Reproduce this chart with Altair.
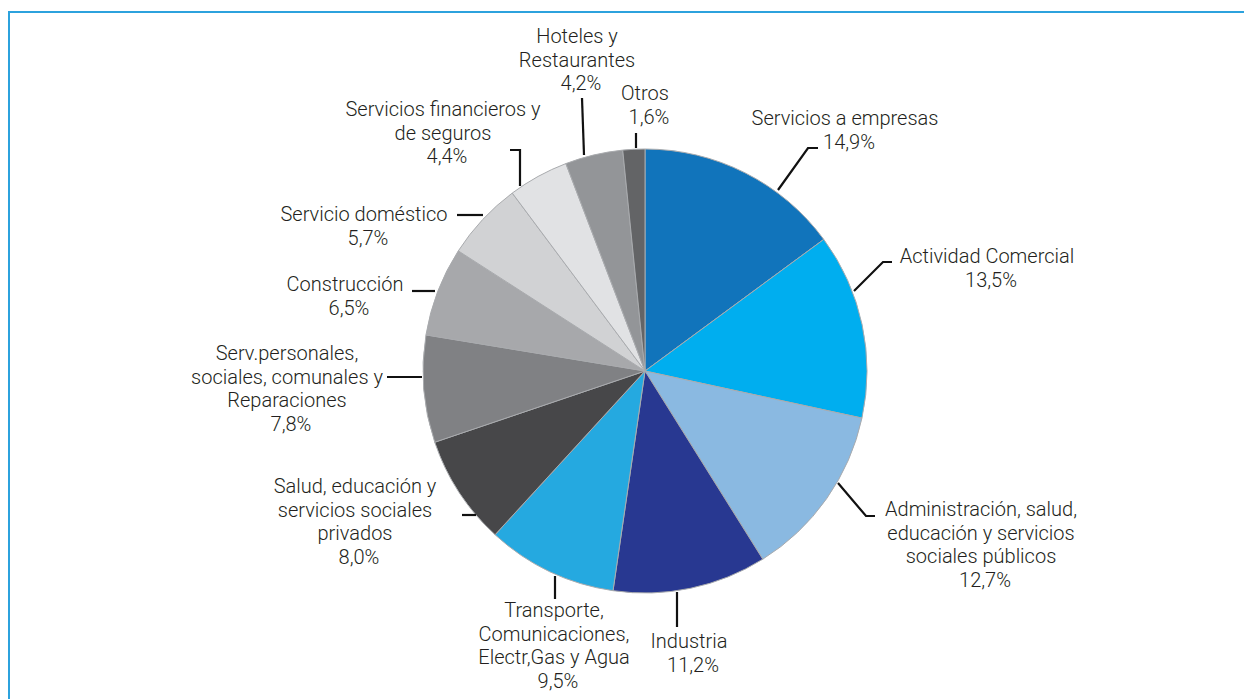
import altair as alt
import pandas as pd

# ---------------- data ----------------
categories = [
    "Servicios a empresas",
    "Actividad Comercial",
    "Administración, salud, educación y servicios sociales públicos",
    "Industria",
    "Transporte, Comunicaciones, Electr,Gas y Agua",
    "Salud, educación y servicios sociales privados",
    "Serv.personales, sociales, comunales y Reparaciones",
    "Construcción",
    "Servicio doméstico",
    "Servicios financieros y de seguros",
    "Hoteles y Restaurantes",
    "Otros",
]
shares = [14.9, 13.5, 12.7, 11.2, 9.5, 8.0, 7.8, 6.5, 5.7, 4.4, 4.2, 1.6]
colors = [
    "#1174BB", "#00AEEF", "#8AB9E1", "#283891", "#25A9E0", "#474749",
    "#808184", "#A7A8AB", "#D1D2D4", "#E1E2E4", "#939598", "#636466",
]
label_lines = [
    ["Servicios a empresas"],
    ["Actividad Comercial"],
    ["Administración, salud,", "educación y servicios", "sociales públicos"],
    ["Industria"],
    ["Transporte,", "Comunicaciones,", "Electr,Gas y Agua"],
    ["Salud, educación y", "servicios sociales", "privados"],
    ["Serv.personales,", "sociales, comunales y", "Reparaciones"],
    ["Construcción"],
    ["Servicio doméstico"],
    ["Servicios financieros y", "de seguros"],
    ["Hoteles y", "Restaurantes"],
    ["Otros"],
]

# ---------------- layout (page pixels) ----------------
W, H = 1236, 691
PIE_CX, PIE_CY, PIE_R = 645, 371, 222
LINE_H = 23.5
label_anchor = [
    (845, 125), (987, 263), (981, 516), (689, 648), (554, 617), (355, 493),
    (287, 360), (345, 291), (364, 221), (443, 116), (577, 43), (645, 100),
]
leaders = [
    [(778, 190), (808, 148), (818, 148)],
    [(854, 291), (883, 262), (892, 262)],
    [(838, 483), (866, 516), (875, 516)],
    [(677, 592), (677, 627)],
    [(555, 576), (555, 599)],
    [(476, 515), (462, 515)],
    [(422, 377), (387, 377)],
    [(435, 291), (412, 291)],
    [(483, 215), (457, 215)],
    [(520, 186), (520, 150), (510, 150)],
    [(584, 155), (582, 98)],
    [(636, 148), (636, 133)],
]

xscale = alt.Scale(domain=[8, 8 + W], nice=False, zero=False)
yscale = alt.Scale(domain=[8, 8 + H], nice=False, zero=False, reverse=True)

pie_df = pd.DataFrame({"cat": categories, "share": shares, "idx": list(range(len(categories)))})

text_rows = []
for i, (lines, v) in enumerate(zip(label_lines, shares)):
    cx, y0 = label_anchor[i]
    pct = f"{v:.1f}".replace(".", ",") + "%"
    all_lines = lines + [pct]
    for j, t in enumerate(all_lines):
        text_rows.append({
            "t": t,
            "x": cx + (4 if j == len(all_lines) - 1 else 0),
            "y": y0 + LINE_H * j,
        })
text_df = pd.DataFrame(text_rows)

lead_rows = []
for i, pts in enumerate(leaders):
    for k, (px, py) in enumerate(pts):
        lead_rows.append({"lid": i, "k": k, "x": px, "y": py})
lead_df = pd.DataFrame(lead_rows)

frame_df = pd.DataFrame({"x": [9], "x2": [1400], "y": [12], "y2": [1000]})

frame = alt.Chart(frame_df).mark_rect(
    fill="white", fillOpacity=0, stroke="#2CA2DD", strokeWidth=2
).encode(
    x=alt.X("x:Q", scale=xscale, axis=None),
    x2="x2:Q",
    y=alt.Y("y:Q", scale=yscale, axis=None),
    y2="y2:Q",
)

pie = alt.Chart(pie_df).mark_arc(
    radius=PIE_R, stroke="#A9ABAE", strokeWidth=1
).encode(
    theta=alt.Theta("share:Q", stack=True),
    order=alt.Order("idx:Q"),
    color=alt.Color("cat:N", scale=alt.Scale(domain=categories, range=colors), legend=None),
    x=alt.X(datum=PIE_CX, type="quantitative", scale=xscale, axis=None),
    y=alt.Y(datum=PIE_CY, type="quantitative", scale=yscale, axis=None),
)

lead = alt.Chart(lead_df).mark_line(
    color="#111111", strokeWidth=2.2, strokeJoin="miter", strokeCap="butt"
).encode(
    x=alt.X("x:Q", scale=xscale, axis=None),
    y=alt.Y("y:Q", scale=yscale, axis=None),
    detail="lid:N",
    order="k:Q",
)

text = alt.Chart(text_df).mark_text(
    align="center", baseline="alphabetic", font="Roboto", fontSize=20,
    fontWeight=300, color="#231F20"
).encode(
    x=alt.X("x:Q", scale=xscale, axis=None),
    y=alt.Y("y:Q", scale=yscale, axis=None),
    text="t:N",
)

chart = alt.layer(frame, pie, lead, text).properties(
    width=W, height=H, padding=0,
    autosize=alt.AutoSizeParams(type="none"),
    background="white",
).configure_view(strokeWidth=0)

chart.save("out.html", embed_options={"renderer": "svg", "actions": False})
